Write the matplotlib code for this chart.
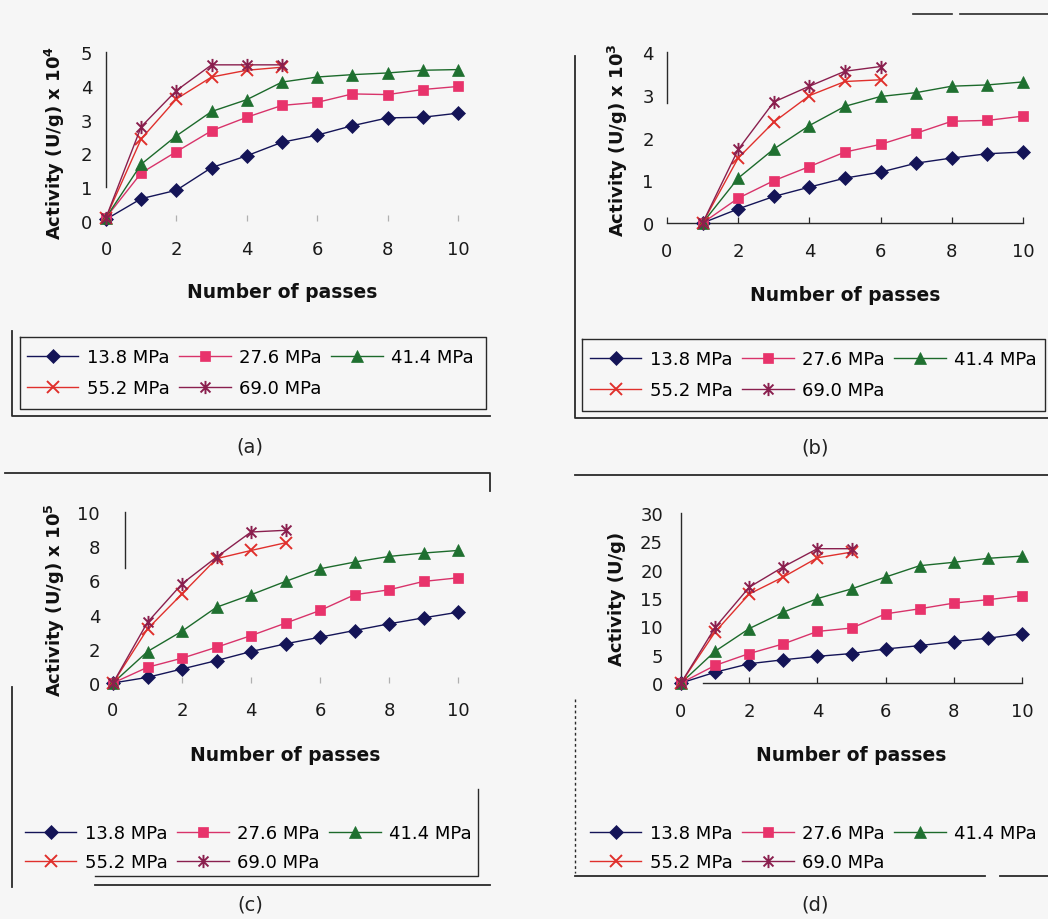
import matplotlib
matplotlib.use("Agg")
import matplotlib.pyplot as plt
from matplotlib.lines import Line2D
from matplotlib.path import Path

W, H = 1048, 920

# ---------------- data ----------------
pressures = ["13.8 MPa", "27.6 MPa", "41.4 MPa", "55.2 MPa", "69.0 MPa"]
x_ticks = [0, 2, 4, 6, 8, 10]

# (a) activity, U/g x 10^4
passes_a_long = [0, 1, 2, 3, 4, 5, 6, 7, 8, 9, 10]
passes_a_short = [0, 1, 2, 3, 4, 5]
a_138 = [0.05, 0.66, 0.91, 1.58, 1.93, 2.33, 2.54, 2.82, 3.05, 3.07, 3.19]
a_276 = [0.10, 1.42, 2.05, 2.67, 3.07, 3.42, 3.51, 3.76, 3.74, 3.89, 3.98]
a_414 = [0.10, 1.68, 2.52, 3.24, 3.59, 4.11, 4.26, 4.33, 4.38, 4.46, 4.48]
a_552 = [0.10, 2.43, 3.61, 4.26, 4.46, 4.55]
a_690 = [0.10, 2.79, 3.86, 4.62, 4.62, 4.62]
a_yticks = [0, 1, 2, 3, 4, 5]

# (b) activity, U/g x 10^3
passes_b_long = [1, 2, 3, 4, 5, 6, 7, 8, 9, 10]
passes_b_short = [1, 2, 3, 4, 5, 6]
b_138 = [0.0, 0.33, 0.62, 0.84, 1.05, 1.19, 1.40, 1.52, 1.62, 1.66]
b_276 = [0.0, 0.58, 0.99, 1.32, 1.66, 1.84, 2.10, 2.38, 2.40, 2.50]
b_414 = [0.0, 1.05, 1.73, 2.28, 2.73, 2.96, 3.05, 3.20, 3.23, 3.30]
b_552 = [0.0, 1.52, 2.36, 2.98, 3.31, 3.35]
b_690 = [0.0, 1.72, 2.83, 3.20, 3.55, 3.66]
b_yticks = [0, 1, 2, 3, 4]

# (c) activity, U/g x 10^5
passes_c_long = [0, 1, 2, 3, 4, 5, 6, 7, 8, 9, 10]
passes_c_short = [0, 1, 2, 3, 4, 5]
c_138 = [0.0, 0.33, 0.82, 1.31, 1.84, 2.29, 2.68, 3.07, 3.46, 3.81, 4.14]
c_276 = [0.0, 0.92, 1.45, 2.09, 2.77, 3.50, 4.24, 5.16, 5.45, 5.94, 6.15]
c_414 = [0.0, 1.84, 3.03, 4.43, 5.16, 5.94, 6.68, 7.07, 7.40, 7.60, 7.75]
c_552 = [0.0, 3.16, 5.21, 7.27, 7.75, 8.20]
c_690 = [0.0, 3.55, 5.80, 7.36, 8.83, 8.93]
c_yticks = [0, 2, 4, 6, 8, 10]

# (d) activity, U/g
passes_d_long = [0, 1, 2, 3, 4, 5, 6, 7, 8, 9, 10]
passes_d_short = [0, 1, 2, 3, 4, 5]
d_138 = [0.0, 1.9, 3.4, 4.1, 4.7, 5.2, 6.0, 6.6, 7.3, 7.9, 8.7]
d_276 = [0.0, 3.1, 5.2, 6.9, 9.1, 9.7, 12.2, 13.1, 14.1, 14.7, 15.4]
d_414 = [0.0, 5.6, 9.6, 12.5, 14.9, 16.6, 18.7, 20.7, 21.3, 22.0, 22.4]
d_552 = [0.0, 9.0, 15.7, 18.7, 22.1, 23.1]
d_690 = [0.0, 9.8, 16.9, 20.5, 23.7, 23.7]
d_yticks = [0, 5, 10, 15, 20, 25, 30]

# ---------------- styling ----------------
plt.rcParams["font.family"] = ["DejaVu Sans"]
BG = "#f6f6f6"
INK = "#2a2a2a"

# asterisk marker (vertical bar plus an x)
asterisk = Path([(0, -1), (0, 1), (-0.75, -0.75), (0.75, 0.75), (-0.75, 0.75), (0.75, -0.75)],
                [Path.MOVETO, Path.LINETO, Path.MOVETO, Path.LINETO, Path.MOVETO, Path.LINETO])

styles = [
    dict(color="#141457", marker="D", ms=7, mfc="#141457", mec="#141457", mew=0.5),
    dict(color="#d8336a", marker="s", ms=7, mfc="#e8336b", mec="#e8336b", mew=0.5),
    dict(color="#1c6a2b", marker="^", ms=8.5, mfc="#1f7030", mec="#1f7030", mew=0.5),
    dict(color="#e0302c", marker="x", ms=9, mfc="none", mec="#e0302c", mew=1.4),
    dict(color="#8a1f4e", marker=asterisk, ms=9.5, mfc="none", mec="#8a1f4e", mew=1.4),
]


def px_box(x0, x1, y0, y1):
    """axes rectangle from pixel extents (y measured from top)"""
    return [x0 / W, 1 - y0 / H, (x1 - x0) / W, (y0 - y1) / H]


def fline(xs, ys, **kw):
    kw.setdefault("color", INK)
    kw.setdefault("lw", 1.1)
    fig.add_artist(Line2D([x / W for x in xs], [1 - y / H for y in ys],
                          transform=fig.transFigure, **kw))


fig = plt.figure(figsize=(W / 100, H / 100), dpi=100, facecolor=BG)

panels = [
    dict(tag="(a)", box=px_box(106, 458, 222, 53), ylim=5, yticks=a_yticks,
         xl=passes_a_long, xs=passes_a_short, ys=[a_138, a_276, a_414, a_552, a_690],
         ylabel=r"Activity (U/g) x 10$^{\mathbf{4}}$", ylab_xy=(-0.145, 0.47),
         left_bounds=(1, 5), left_pos=0, bottom=None, ypad=10, xpad=14,
         leg_xy=(27, 349), leg_sp=0.72, tag_xy=(250, 447)),
    dict(tag="(b)", box=px_box(667, 1023, 224, 53), ylim=4, yticks=b_yticks,
         xl=passes_b_long, xs=passes_b_short, ys=[b_138, b_276, b_414, b_552, b_690],
         ylabel=r"Activity (U/g) x 10$^{\mathbf{3}}$", ylab_xy=(-0.138, 0.49),
         left_bounds=(2.8, 4), left_pos=0, bottom=(0, 10), ypad=9.5, xpad=13.5,
         leg_xy=(590, 351), leg_sp=0.72, tag_xy=(815, 448)),
    dict(tag="(c)", box=px_box(113, 458, 684, 513), ylim=10, yticks=c_yticks,
         xl=passes_c_long, xs=passes_c_short, ys=[c_138, c_276, c_414, c_552, c_690],
         ylabel=r"Activity (U/g) x 10$^{\mathbf{5}}$", ylab_xy=(-0.168, 0.49),
         left_bounds=(6.7, 10), left_pos=0.35, bottom=None, ypad=18, xpad=13,
         leg_xy=(25, 825), leg_sp=0.62, tag_xy=(250, 905)),
    dict(tag="(d)", box=px_box(681, 1022, 684, 514), ylim=30, yticks=d_yticks,
         xl=passes_d_long, xs=passes_d_short, ys=[d_138, d_276, d_414, d_552, d_690],
         ylabel="Activity (U/g)", ylab_xy=(-0.188, 0.5),
         left_bounds=(0, 30), left_pos=0, bottom=(0.65, 10), ypad=13, xpad=13.5,
         leg_xy=(590, 825), leg_sp=0.62, tag_xy=(815, 905)),
]

for p in panels:
    ax = fig.add_axes(p["box"])
    ax.set_facecolor("none")
    handles = []
    for i, (vals, st) in enumerate(zip(p["ys"], styles)):
        xv = p["xl"] if i < 3 else p["xs"]
        h, = ax.plot(xv, vals, lw=1.0, clip_on=False, zorder=3 + i, label=pressures[i], **st)
        handles.append(h)

    ax.set_xlim(0, 10)
    ax.set_ylim(0, p["ylim"])
    ax.set_xticks(x_ticks)
    ax.set_yticks(p["yticks"])

    for s in ("top", "right"):
        ax.spines[s].set_visible(False)
    ax.spines["left"].set_bounds(*p["left_bounds"])
    ax.spines["left"].set_position(("data", p["left_pos"]))
    ax.spines["left"].set_color(INK)
    ax.spines["left"].set_linewidth(1.0)
    if p["bottom"] is None:
        ax.spines["bottom"].set_visible(False)
        xtc = "#b0b0b0"
    else:
        ax.spines["bottom"].set_bounds(*p["bottom"])
        ax.spines["bottom"].set_color(INK)
        ax.spines["bottom"].set_linewidth(1.0)
        xtc = INK
    ax.tick_params(axis="x", direction="in", length=4, width=0.9, color=xtc,
                   pad=p["xpad"], labelsize=13, labelcolor="#1a1a1a")
    ax.tick_params(axis="y", direction="out", length=0, pad=p["ypad"],
                   labelsize=13, labelcolor="#1a1a1a")
    # short inward cap at the top of the value axis
    ax.set_yticks([p["ylim"]], minor=True)
    ax.tick_params(axis="y", which="minor", direction="in", length=5, width=1.0, color=INK)

    ax.set_xlabel("Number of passes", fontsize=13.5, fontweight="bold", color="#111111")
    ax.xaxis.set_label_coords(0.5, -0.42)
    ax.xaxis.label.set_va("center")
    ax.set_ylabel(p["ylabel"], fontsize=13, fontweight="bold", color="#111111")
    ax.yaxis.set_label_coords(*p["ylab_xy"])
    ax.yaxis.label.set_va("center")

    # legend filled row by row: three entries on the first row, two on the second
    order = [0, 3, 1, 4, 2]
    lx, ly = p["leg_xy"]
    ax.legend([handles[k] for k in order], [pressures[k] for k in order],
              loc="upper left", bbox_to_anchor=(lx / W, 1 - ly / H),
              bbox_transform=fig.transFigure, ncol=3, frameon=False,
              borderpad=0, borderaxespad=0, handlelength=2.85, handletextpad=0.45,
              columnspacing=0.55, labelspacing=p["leg_sp"], fontsize=13, numpoints=1)

    tx, ty = p["tag_xy"]
    fig.text(tx / W, 1 - ty / H, p["tag"], ha="center", va="center", fontsize=14, color="#222222")

# ---------------- panel frames and legend boxes ----------------
# (a)
fline([20, 486, 486, 20, 20], [338, 338, 410, 410, 338], lw=1.0)
fline([12, 12, 490], [332, 417, 417], lw=1.3)
# (b)
fline([582, 1045, 1045, 582, 582], [340, 340, 412, 412, 340], lw=1.0)
fline([575, 575, 1048], [57, 419, 419], lw=1.3)
fline([913, 952], [15, 15], lw=1.2)
fline([960, 1048], [15, 15], lw=1.2)
# (c)
fline([5, 490, 490], [474, 474, 492], lw=1.3)
fline([12, 12], [688, 888], lw=1.3)
fline([478, 478, 95], [790, 877, 877], lw=1.0)
fline([95, 490], [886, 886], lw=1.3)
# (d)
fline([575, 1048], [476, 476], lw=1.3)
fline([575, 575], [700, 874], lw=1.0, ls=(0, (2, 2)))
fline([575, 985], [877, 877], lw=1.3)
fline([1000, 1048], [877, 877], lw=1.3)

fig.savefig("out.png", dpi=100, facecolor=BG)
